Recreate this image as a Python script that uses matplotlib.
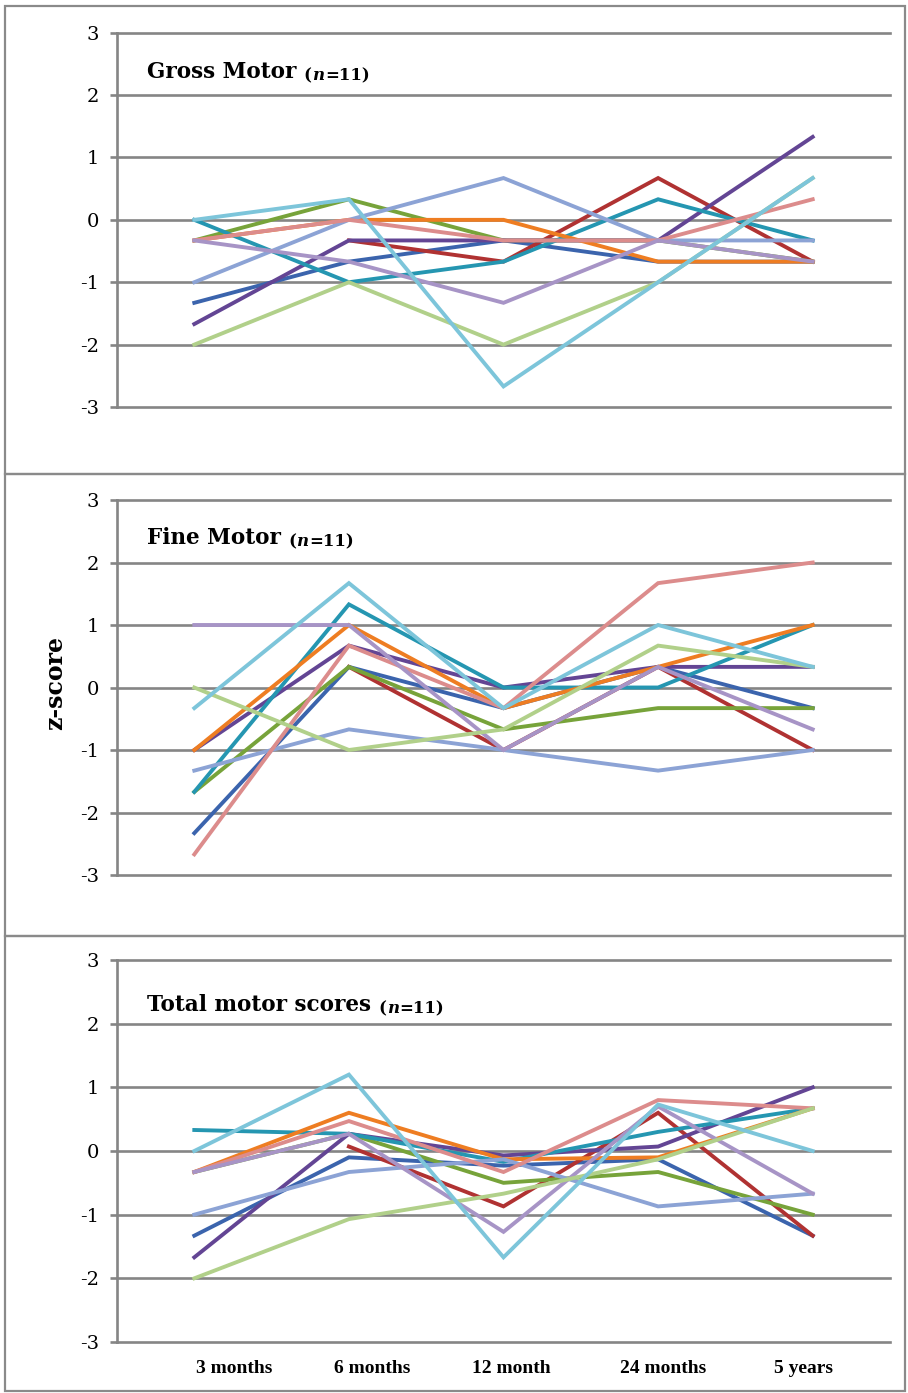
import numpy as np
import matplotlib.pyplot as plt
from matplotlib.patches import Rectangle

nan = np.nan

# time points
categories = ['3 months', '6 months', '12 month', '24 months', '5 years']

# z-scores per child (11 children)
gross = {
    'c1':  [-1.33, -0.67, -0.33, -0.67, -0.67],
    'c2':  [nan, -0.33, -0.67, 0.67, -0.67],
    'c3':  [-0.33, 0.33, -0.33, -0.33, -0.67],
    'c4':  [-1.67, -0.33, -0.33, -0.33, 1.33],
    'c5':  [0.0, -1.0, -0.67, 0.33, -0.33],
    'c6':  [-0.33, 0.0, 0.0, -0.67, -0.67],
    'c7':  [-1.0, 0.0, 0.67, -0.33, -0.33],
    'c8':  [-0.33, 0.0, -0.33, -0.33, 0.33],
    'c9':  [-0.33, -0.67, -1.33, -0.33, -0.67],
    'c10': [-2.0, -1.0, -2.0, -1.0, 0.67],
    'c11': [0.0, 0.33, -2.67, -1.0, 0.67],
}
fine = {
    'c1':  [-2.33, 0.33, -0.33, 0.33, -0.33],
    'c2':  [nan, 0.33, -1.0, 0.33, -1.0],
    'c3':  [-1.67, 0.33, -0.67, -0.33, -0.33],
    'c4':  [-1.0, 0.67, 0.0, 0.33, 0.33],
    'c5':  [-1.67, 1.33, 0.0, 0.0, 1.0],
    'c6':  [-1.0, 1.0, -0.33, 0.33, 1.0],
    'c7':  [-1.33, -0.67, -1.0, -1.33, -1.0],
    'c8':  [-2.67, 0.67, -0.33, 1.67, 2.0],
    'c9':  [1.0, 1.0, -1.0, 0.33, -0.67],
    'c10': [0.0, -1.0, -0.67, 0.67, 0.33],
    'c11': [-0.33, 1.67, -0.33, 1.0, 0.33],
}
total = {
    'c1':  [-1.33, -0.1, -0.23, -0.13, -1.33],
    'c2':  [nan, 0.07, -0.87, 0.6, -1.33],
    'c3':  [-0.33, 0.27, -0.5, -0.33, -1.0],
    'c4':  [-1.67, 0.27, -0.07, 0.07, 1.0],
    'c5':  [0.33, 0.27, -0.17, 0.3, 0.67],
    'c6':  [-0.33, 0.6, -0.13, -0.1, 0.67],
    'c7':  [-1.0, -0.33, -0.13, -0.87, -0.67],
    'c8':  [-0.33, 0.47, -0.33, 0.8, 0.67],
    'c9':  [-0.33, 0.27, -1.27, 0.7, -0.67],
    'c10': [-2.0, -1.07, -0.67, -0.13, 0.67],
    'c11': [0.0, 1.2, -1.67, 0.73, 0.0],
}

colors = ['#3B64AD', '#B03232', '#77A33A', '#634594', '#2596B1', '#EE7D22',
          '#8CA3D5', '#DC8C8C', '#A794C6', '#B1D08A', '#7DC5DA']

titles = ['Gross Motor', 'Fine Motor', 'Total motor scores']
n_text = '11'

W, H = 908, 1393
fig = plt.figure(figsize=(W / 100, H / 100), dpi=100)

grid_col = '#858585'
serif = 'DejaVu Serif'

# plot area in pixels: (top, bottom)
boxes = [(32.7, 407), (500, 875), (960, 1342)]
title_y = [0.895, 0.899, 0.882]
panels = [gross, fine, total]
# panel frames (pixel top, bottom)
frames = [(6, 474), (474, 936), (936, 1391)]

for fr in frames:
    fig.add_artist(Rectangle((5 / W, 1 - fr[1] / H), 900 / W, (fr[1] - fr[0]) / H,
                             transform=fig.transFigure, fill=False,
                             edgecolor='#8a8a8a', lw=1.6))

x = np.arange(len(categories))
axes = []
for k, (top, bot) in enumerate(boxes):
    ax = fig.add_axes([117 / W, 1 - bot / H, 773 / W, (bot - top) / H])
    data = panels[k]
    for (name, vals), c in zip(data.items(), colors):
        ax.plot(x, vals, color=c, lw=2.8, solid_joinstyle='miter')
    ax.set_xlim(-0.5, 4.5)
    ax.set_ylim(-3, 3)
    ax.set_yticks(range(-3, 4))
    ax.set_yticklabels([str(v) for v in range(-3, 4)], family=serif, fontsize=14)
    ax.yaxis.grid(True, color=grid_col, lw=1.9)
    for gl in ax.yaxis.get_gridlines():
        gl.set_clip_on(False)
    ax.set_axisbelow(True)
    for s in ['top', 'right', 'bottom']:
        ax.spines[s].set_visible(False)
    ax.spines['left'].set_color(grid_col)
    ax.spines['left'].set_linewidth(1.9)
    ax.tick_params(axis='y', length=5, width=1.9, color=grid_col, pad=8)
    ax.tick_params(axis='x', length=0)
    ax.set_xticks([])

    # title: bold name followed by smaller (n=11) with italic n
    t1 = ax.text(0.039, title_y[k], titles[k], transform=ax.transAxes,
                 family=serif, fontweight='bold', fontsize=15.5, va='center')
    yn = title_y[k] - 0.01
    t2 = ax.annotate('(', xy=(1, yn), xycoords=(t1, ax.transAxes),
                     xytext=(5, 0), textcoords='offset points', family=serif,
                     fontweight='bold', fontsize=12, va='center')
    t3 = ax.annotate('n', xy=(1, yn), xycoords=(t2, ax.transAxes),
                     xytext=(0.5, 0), textcoords='offset points', family=serif,
                     fontweight='bold', style='italic', fontsize=12, va='center')
    ax.annotate('=' + n_text + ')', xy=(1, yn), xycoords=(t3, ax.transAxes),
                xytext=(0.5, 0), textcoords='offset points', family=serif,
                fontweight='bold', fontsize=12, va='center')
    axes.append(ax)

# category labels under the bottom panel
label_pos = [0.26, 1.15, 2.05, 3.03, 3.94]
axes[-1].set_xticks(label_pos)
axes[-1].set_xticklabels(categories, family='Liberation Serif', fontweight='bold',
                         fontsize=14)
axes[-1].tick_params(axis='x', length=0, pad=13)

fig.text(55 / W, 1 - 683 / H, 'z-score', rotation=90, family=serif,
         fontweight='bold', fontsize=17, ha='center', va='center')

fig.savefig('out.png', dpi=100)
